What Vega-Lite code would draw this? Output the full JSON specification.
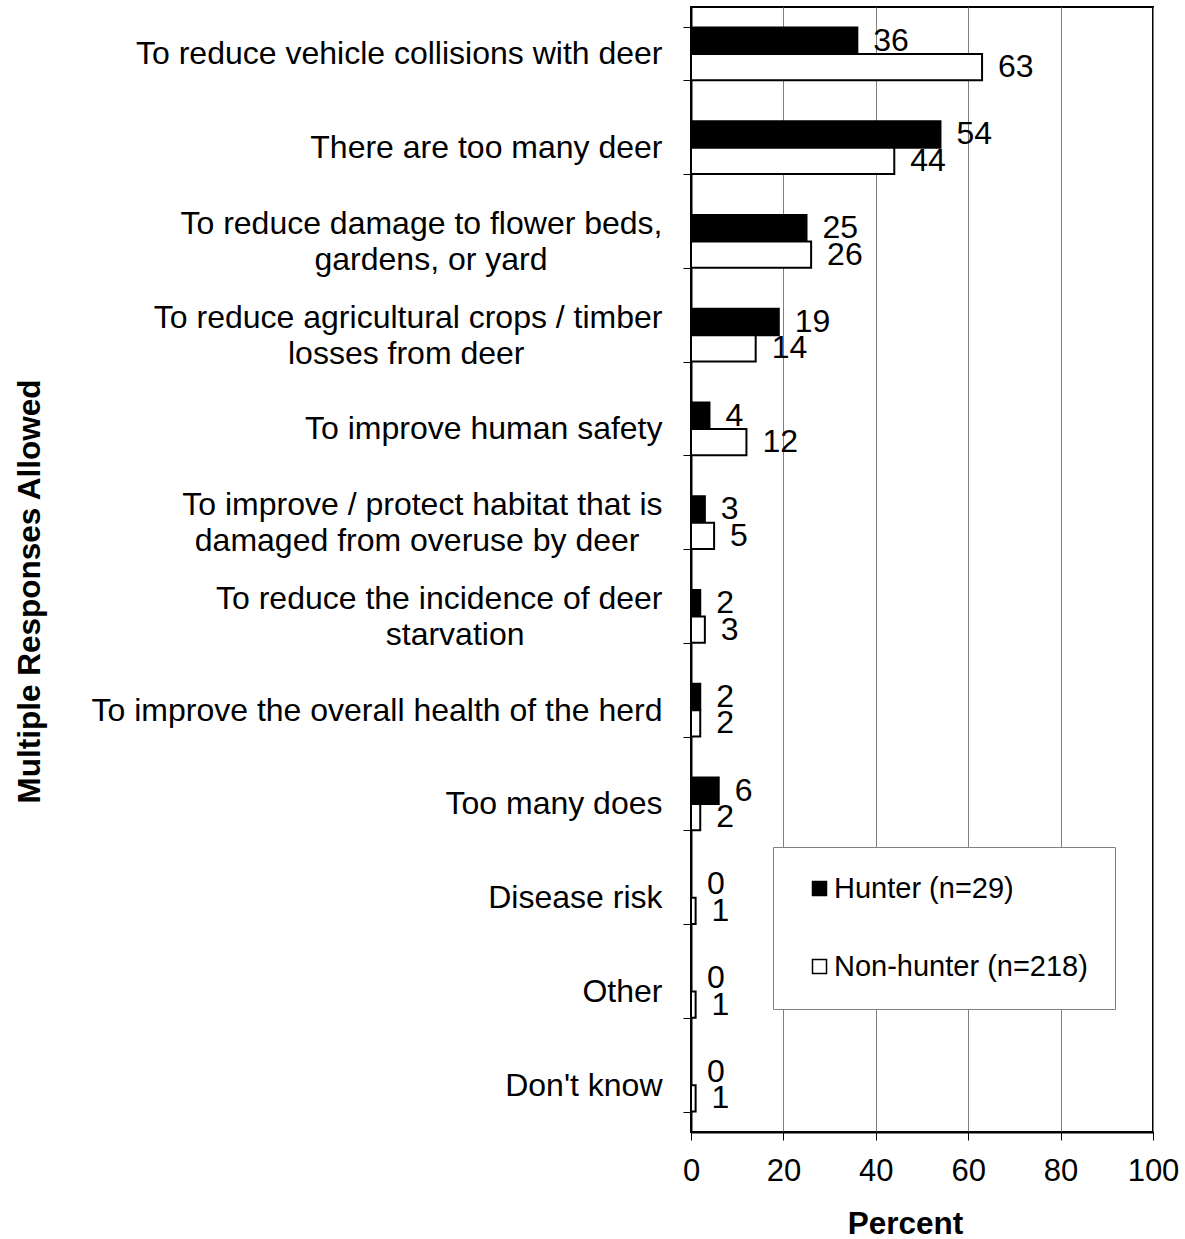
{
  "$schema": "https://vega.github.io/schema/vega-lite/v6.json",
  "autosize": {"type": "none"},
  "padding": {"left": 691, "top": 7, "right": 32, "bottom": 107},
  "width": 462,
  "height": 1125,
  "background": "white",
  "config": {
    "font": "Liberation Sans",
    "view": {"stroke": "black", "strokeWidth": 2},
    "axis": {"labelColor": "black", "titleColor": "black", "labelFont": "Liberation Sans", "titleFont": "Liberation Sans"}
  },
  "data": {
    "values": [
      {"reason": "To reduce vehicle collisions with deer", "group": "Hunter (n=29)", "percent": 36},
      {"reason": "To reduce vehicle collisions with deer", "group": "Non-hunter (n=218)", "percent": 63},
      {"reason": "There are too many deer", "group": "Hunter (n=29)", "percent": 54},
      {"reason": "There are too many deer", "group": "Non-hunter (n=218)", "percent": 44},
      {"reason": "To reduce damage to flower beds,\ngardens, or yard", "group": "Hunter (n=29)", "percent": 25},
      {"reason": "To reduce damage to flower beds,\ngardens, or yard", "group": "Non-hunter (n=218)", "percent": 26},
      {"reason": "To reduce agricultural crops / timber\nlosses from deer", "group": "Hunter (n=29)", "percent": 19},
      {"reason": "To reduce agricultural crops / timber\nlosses from deer", "group": "Non-hunter (n=218)", "percent": 14},
      {"reason": "To improve human safety", "group": "Hunter (n=29)", "percent": 4},
      {"reason": "To improve human safety", "group": "Non-hunter (n=218)", "percent": 12},
      {"reason": "To improve / protect habitat that is\ndamaged from overuse by deer", "group": "Hunter (n=29)", "percent": 3},
      {"reason": "To improve / protect habitat that is\ndamaged from overuse by deer", "group": "Non-hunter (n=218)", "percent": 5},
      {"reason": "To reduce the incidence of deer\nstarvation", "group": "Hunter (n=29)", "percent": 2},
      {"reason": "To reduce the incidence of deer\nstarvation", "group": "Non-hunter (n=218)", "percent": 3},
      {"reason": "To improve the overall health of the herd", "group": "Hunter (n=29)", "percent": 2},
      {"reason": "To improve the overall health of the herd", "group": "Non-hunter (n=218)", "percent": 2},
      {"reason": "Too many does", "group": "Hunter (n=29)", "percent": 6},
      {"reason": "Too many does", "group": "Non-hunter (n=218)", "percent": 2},
      {"reason": "Disease risk", "group": "Hunter (n=29)", "percent": 0},
      {"reason": "Disease risk", "group": "Non-hunter (n=218)", "percent": 1},
      {"reason": "Other", "group": "Hunter (n=29)", "percent": 0},
      {"reason": "Other", "group": "Non-hunter (n=218)", "percent": 1},
      {"reason": "Don't know", "group": "Hunter (n=29)", "percent": 0},
      {"reason": "Don't know", "group": "Non-hunter (n=218)", "percent": 1}
    ]
  },
  "encoding": {
    "y": {
      "field": "reason",
      "type": "nominal",
      "sort": null,
      "scale": {"paddingInner": 0.435, "paddingOuter": 0.2175},
      "axis": {
        "title": "Multiple Responses Allowed",
        "titleFontSize": 31.5,
        "titleFontWeight": "bold",
        "titleAngle": -90,
        "titleX": -652,
        "titleY": 584,
        "titleAlign": "center",
        "titleBaseline": "alphabetic",
        "labelFontSize": 32,
        "labelLineHeight": 18,
        "labelLimit": 800,
        "labelPadding": 21,
        "labelAlign": "right",
        "labelBaseline": "middle",
        "labelOffset": -18,
        "labelExpr": "length(split(datum.label, '\\n')) > 1 ? [split(datum.label, '\\n')[0], '\u2800', split(datum.label, '\\n')[1] + substring('\u2800\u2800\u2800\u2800\u2800\u2800\u2800\u2800\u2800\u2800\u2800\u2800\u2800\u2800\u2800\u2800\u2800\u2800\u2800\u2800', 0, round(1.368 * ((0.25 * length(split(datum.label, '\\n')[0]) + 0.3 * length(replace(split(datum.label, '\\n')[0], regexp('[ijlrtf ,./]', 'g'), ''))) - (0.25 * length(split(datum.label, '\\n')[1]) + 0.3 * length(replace(split(datum.label, '\\n')[1], regexp('[ijlrtf ,./]', 'g'), '')))) / 2))] : ['', datum.label]",
        "tickBand": "extent",
        "tickSize": 8,
        "tickColor": "black",
        "tickWidth": 1,
        "domainColor": "black",
        "domainWidth": 2,
        "grid": false
      }
    },
    "yOffset": {"field": "group", "type": "nominal", "sort": ["Hunter (n=29)", "Non-hunter (n=218)"]},
    "x": {
      "field": "percent",
      "type": "quantitative",
      "scale": {"domain": [0, 100], "nice": false},
      "axis": {
        "title": "Percent",
        "titleFontSize": 31.5,
        "titleFontWeight": "bold",
        "titleX": 214,
        "titleY": 101,
        "titleAlign": "center",
        "titleBaseline": "alphabetic",
        "values": [0, 20, 40, 60, 80, 100],
        "labelFontSize": 31,
        "labelBaseline": "alphabetic",
        "labelPadding": 40,
        "labelFlush": false,
        "tickSize": 8,
        "tickColor": "black",
        "tickWidth": 1,
        "domainColor": "black",
        "domainWidth": 2,
        "grid": true,
        "gridColor": "#808080",
        "gridWidth": 1
      }
    }
  },
  "layer": [
    {
      "mark": {"type": "bar", "stroke": "black", "strokeWidth": 2},
      "encoding": {
        "fill": {
          "field": "group",
          "type": "nominal",
          "scale": {"domain": ["Hunter (n=29)", "Non-hunter (n=218)"], "range": ["black", "white"]},
          "legend": {
            "title": null,
            "orient": "none",
            "legendX": 82,
            "legendY": 840,
            "padding": 27,
            "symbolOffset": 5,
            "fillColor": "white",
            "strokeColor": "#808080",
            "symbolType": "square",
            "symbolSize": 196,
            "symbolStrokeColor": "black",
            "symbolStrokeWidth": 1.5,
            "labelFontSize": 29,
            "labelFont": "Liberation Sans",
            "labelColor": "black",
            "labelOffset": 0,
            "rowPadding": 48,
            "labelLimit": 400
          }
        }
      }
    },
    {
      "mark": {"type": "text", "align": "left", "baseline": "middle", "dx": 16, "fontSize": 32, "font": "Liberation Sans", "color": "black"},
      "encoding": {
        "text": {"field": "percent", "type": "quantitative"}
      }
    }
  ]
}
